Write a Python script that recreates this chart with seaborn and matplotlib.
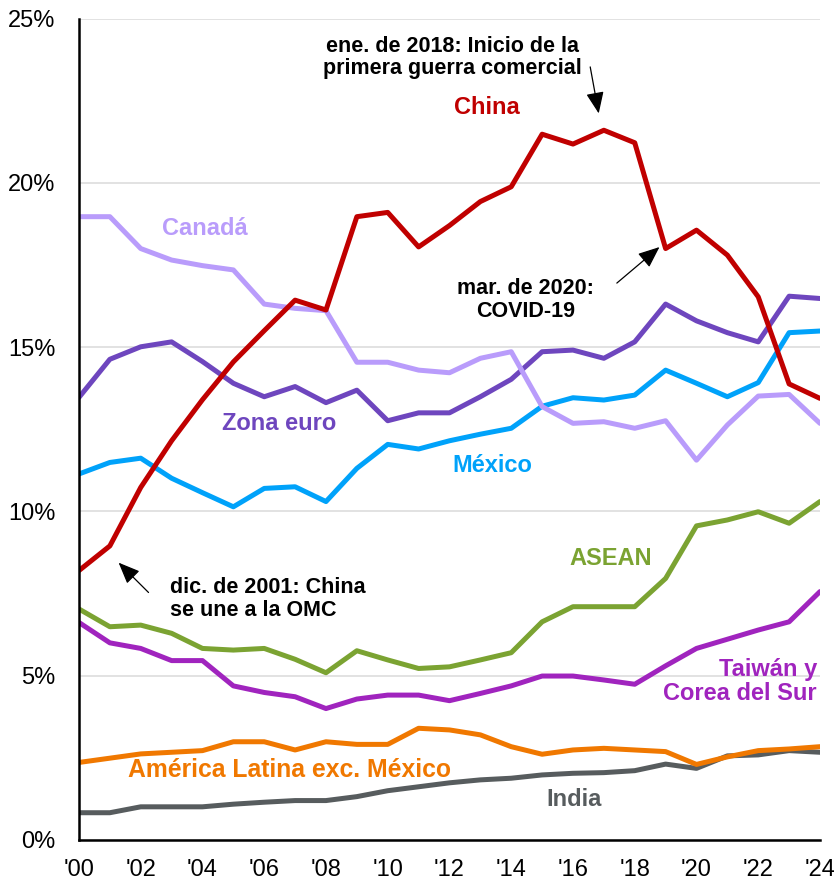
import pandas as pd
import seaborn as sns
import matplotlib.pyplot as plt

years = list(range(2000, 2025))

india = [0.83, 0.83, 1.01, 1.01, 1.01, 1.09, 1.15, 1.20, 1.20, 1.32, 1.50, 1.62, 1.74,
         1.83, 1.88, 1.98, 2.03, 2.05, 2.11, 2.31, 2.18, 2.56, 2.59, 2.72, 2.67]
latam = [2.36, 2.49, 2.62, 2.67, 2.72, 2.99, 2.99, 2.74, 2.99, 2.91, 2.91, 3.40, 3.35,
         3.20, 2.84, 2.61, 2.74, 2.79, 2.74, 2.69, 2.30, 2.53, 2.72, 2.77, 2.84]
taiwan_corea = [6.62, 6.00, 5.83, 5.46, 5.46, 4.69, 4.49, 4.36, 4.00, 4.29, 4.41, 4.41, 4.24,
                4.46, 4.69, 4.99, 4.99, 4.87, 4.74, 5.30, 5.83, 6.11, 6.39, 6.64, 7.56]
asean = [7.03, 6.49, 6.54, 6.29, 5.83, 5.78, 5.83, 5.50, 5.09, 5.76, 5.48, 5.22, 5.27,
         5.48, 5.70, 6.64, 7.10, 7.10, 7.10, 7.96, 9.56, 9.74, 9.99, 9.64, 10.30]
mexico = [11.14, 11.49, 11.62, 11.01, 10.57, 10.14, 10.70, 10.75, 10.30, 11.31, 12.04, 11.90, 12.15,
          12.35, 12.53, 13.20, 13.46, 13.39, 13.54, 14.30, 13.90, 13.49, 13.92, 15.44, 15.49]
zona_euro = [13.47, 14.63, 15.01, 15.16, 14.56, 13.90, 13.49, 13.80, 13.31, 13.69, 12.76, 13.00, 13.00,
             13.49, 14.02, 14.86, 14.91, 14.66, 15.16, 16.31, 15.80, 15.44, 15.16, 16.55, 16.48]
canada = [18.97, 18.97, 18.00, 17.65, 17.48, 17.35, 16.31, 16.18, 16.11, 14.54, 14.54, 14.30, 14.22,
          14.66, 14.86, 13.19, 12.68, 12.73, 12.53, 12.76, 11.56, 12.63, 13.51, 13.56, 12.68]
china = [8.20, 8.95, 10.73, 12.15, 13.40, 14.55, 15.50, 16.43, 16.13, 18.97, 19.10, 18.05, 18.70,
         19.43, 19.88, 21.48, 21.18, 21.60, 21.22, 18.00, 18.56, 17.80, 16.53, 13.88, 13.44]

series = {
    "India": india,
    "América Latina exc. México": latam,
    "Taiwán y\nCorea del Sur": taiwan_corea,
    "ASEAN": asean,
    "México": mexico,
    "Zona euro": zona_euro,
    "Canadá": canada,
    "China": china,
}
colors = {
    "India": "#575C5E",
    "América Latina exc. México": "#F07800",
    "Taiwán y\nCorea del Sur": "#A024BE",
    "ASEAN": "#7BA332",
    "México": "#00A2FA",
    "Zona euro": "#6E46BE",
    "Canadá": "#B99CFB",
    "China": "#C00000",
}

rows = []
for name, vals in series.items():
    for y, v in zip(years, vals):
        rows.append({"year": y, "share": v, "region": name})
df = pd.DataFrame(rows)

sns.set_style("white")
plt.rcParams["font.family"] = ["Liberation Sans", "DejaVu Sans"]
plt.rcParams["text.color"] = "black"

fig = plt.figure(figsize=(8.34, 8.83), dpi=100)
ax = fig.add_axes([0.0947, 0.0487, 0.8885, 0.9303])

sns.lineplot(data=df, x="year", y="share", hue="region", palette=colors,
             hue_order=list(series.keys()), linewidth=3.6, legend=False, ax=ax)

ax.set_xlim(2000, 2024)
ax.set_ylim(0, 25)
ax.set_xticks(range(2000, 2025, 2))
ax.set_xticklabels(["'%02d" % (y % 100) for y in range(2000, 2025, 2)])
ax.set_yticks(range(0, 26, 5))
ax.set_yticklabels(["%d%%" % v for v in range(0, 26, 5)])
ax.yaxis.grid(True, color="#DDDDDD", lw=1.2)
ax.set_axisbelow(True)
ax.set_xlabel("")
ax.set_ylabel("")
for s in ["top", "right"]:
    ax.spines[s].set_visible(False)
ax.spines["left"].set_color("black")
ax.spines["bottom"].set_color("black")
ax.spines["left"].set_linewidth(1.8)
ax.spines["bottom"].set_linewidth(1.8)
ax.tick_params(axis="x", direction="out", length=8, width=1.5, color="black",
               labelsize=17, labelcolor="black", pad=6)
ax.tick_params(axis="y", length=0, labelsize=17, labelcolor="black", pad=17)

lab = dict(fontsize=17, fontweight="bold", ha="center", va="center")
ax.text(2013.2, 22.28, "China", color=colors["China"], **lab)
ax.text(2004.08, 18.6, "Canadá", color=colors["Canadá"], **lab)
ax.text(2006.49, 12.69, "Zona euro", color=colors["Zona euro"], **lab)
ax.text(2013.39, 11.41, "México", color=colors["México"], **lab)
ax.text(2017.22, 8.57, "ASEAN", color=colors["ASEAN"], **lab)
ax.text(2023.9, 4.81, "Taiwán y\nCorea del Sur", color=colors["Taiwán y\nCorea del Sur"],
        fontsize=17, fontweight="bold", ha="right", va="center", multialignment="right",
        linespacing=1.05)
ax.text(2006.83, 2.13, "América Latina exc. México", color=colors["América Latina exc. México"],
        fontsize=17.8, fontweight="bold", ha="center", va="center")
ax.text(2016.03, 1.22, "India", color=colors["India"], **lab)

arrow = dict(arrowstyle="-|>,head_length=0.6,head_width=0.25", color="black",
             lw=0.9, mutation_scale=22)
ax.annotate("ene. de 2018: Inicio de la\nprimera guerra comercial",
            xy=(2016.85, 22.03), xytext=(2012.1, 23.81), color="black",
            fontsize=15.5, fontweight="bold", ha="center", va="center",
            linespacing=1.1, arrowprops=dict(arrow, relpos=(1.03, 0.35)))
ax.annotate("mar. de 2020:\nCOVID-19", xy=(2018.87, 18.1), xytext=(2014.47, 16.43),
            color="black", fontsize=15.5, fontweight="bold", ha="center", va="center",
            linespacing=1.1, arrowprops=dict(arrow, relpos=(1.15, 0.85)))
ax.annotate("dic. de 2001: China\nse une a la OMC", xy=(2001.22, 8.5), xytext=(2002.95, 7.34),
            color="black", fontsize=15.5, fontweight="bold", ha="left", va="center",
            linespacing=1.1, arrowprops=dict(arrow, relpos=(-0.1, 0.6)))

plt.savefig("out.png", dpi=100)
